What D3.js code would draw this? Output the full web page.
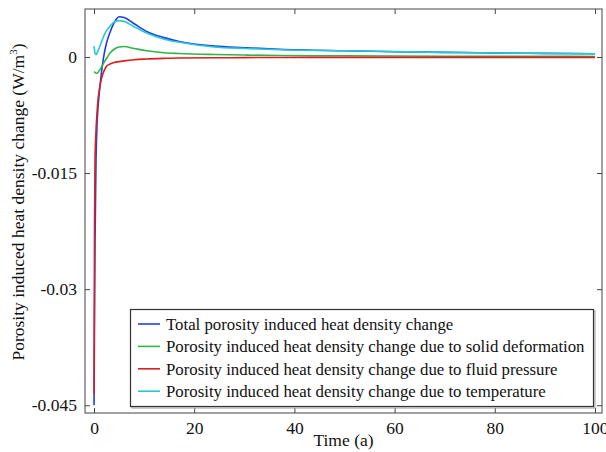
<!DOCTYPE html>
<html>
<head>
<meta charset="utf-8">
<script src="https://cdn.jsdelivr.net/npm/d3@7"></script>
<style>
  html, body { margin: 0; padding: 0; background: #fff; }
  svg { display: block; }
  text { font-family: "Liberation Serif", "Times New Roman", serif; fill: #111; }
</style>
</head>
<body>
<svg id="chart" width="606" height="452"></svg>
<script>
const times = [0, 0.1, 0.2, 0.4, 0.6, 0.8, 1, 1.4, 2, 2.5, 3.2, 4, 5, 6, 8, 10.5, 14, 17, 24, 30, 37, 50, 60, 70, 80, 90, 100];
const totalChange = [-0.045, -0.034, -0.024, -0.0133, -0.0088, -0.0065, -0.005, -0.0025, 0.0003, 0.0018, 0.0032, 0.0044, 0.0052, 0.0051, 0.0043, 0.0033, 0.0025, 0.002, 0.0014, 0.0012, 0.001, 0.0008, 0.00068, 0.0006, 0.00052, 0.00047, 0.00042];
const solidDeformation = [-0.0019, -0.00195, -0.002, -0.0021, -0.0021, -0.002, -0.0018, -0.0014, -0.0007, -0.0002, 0.0005, 0.001, 0.0013, 0.00135, 0.0011, 0.0008, 0.00055, 0.00045, 0.00032, 0.00025, 0.0002, 0.00015, 0.00012, 0.0001, 0.00009, 0.00008, 0.00007];
const fluidPressure = [-0.0435, -0.022, -0.0133, -0.0095, -0.0072, -0.0055, -0.0045, -0.003, -0.0018, -0.0012, -0.0009, -0.0007, -0.0006, -0.0005, -0.00035, -0.00026, -0.00018, -0.00013, -0.0001, -0.00008, -0.00006, -0.00005, -0.00005, -0.00005, -0.00005, -0.00005, -0.00005];
const temperature = [0.0014, 0.0009, 0.0005, 0.0003, 0.0005, 0.0008, 0.0011, 0.0018, 0.0028, 0.0034, 0.004, 0.0045, 0.0047, 0.0046, 0.0039, 0.0031, 0.0023, 0.0019, 0.0013, 0.0011, 0.00094, 0.0008, 0.0007, 0.0006, 0.00052, 0.00046, 0.0004];

const seriesNames = [
  "Total porosity induced heat density change",
  "Porosity induced heat density change due to solid deformation",
  "Porosity induced heat density change due to fluid pressure",
  "Porosity induced heat density change due to temperature"
];
const seriesValues = [totalChange, solidDeformation, fluidPressure, temperature];
const seriesColors = ["#1d3fe0", "#2fb54a", "#d91f1f", "#27c9d2"];

const xTicks = [0, 20, 40, 60, 80, 100];
const yTicks = [0, -0.015, -0.03, -0.045];
const yTickLabels = ["0", "-0.015", "-0.03", "-0.045"];
const xLabel = "Time (a)";

const svg = d3.select("#chart");
const L = 85, R = 602, T = 9, B = 413;
const x = d3.scaleLinear().domain([-1.8, 101.4]).range([L, R]);
const y = d3.scaleLinear().domain([-0.046, 0.0062]).range([B, T]);

svg.append("defs").append("clipPath").attr("id", "clip")
  .append("rect").attr("x", L).attr("y", T).attr("width", R - L).attr("height", B - T);

const frameColor = "#444";
const fontSize = 17.5;

// axes (ticks inward)
const xAxisB = d3.axisBottom(x).tickValues(xTicks).tickSizeInner(-5).tickSizeOuter(0).tickPadding(9).tickFormat(d3.format("d"));
const xAxisT = d3.axisTop(x).tickValues(xTicks).tickSizeInner(-5).tickSizeOuter(0).tickFormat("");
const yAxisL = d3.axisLeft(y).tickValues(yTicks).tickSizeInner(-5).tickSizeOuter(0).tickPadding(8).tickFormat((d, i) => yTickLabels[i]);
const yAxisR = d3.axisRight(y).tickValues(yTicks).tickSizeInner(-5).tickSizeOuter(0).tickFormat("");

function styleAxis(g) {
  g.select(".domain").remove();
  g.selectAll(".tick line").attr("stroke", frameColor).attr("stroke-width", 1);
  g.selectAll(".tick text").attr("font-family", "Liberation Serif, Times New Roman, serif").attr("font-size", fontSize).attr("fill", "#111");
}
svg.append("g").attr("transform", `translate(0,${B})`).call(xAxisB).call(styleAxis);
svg.append("g").attr("transform", `translate(0,${T})`).call(xAxisT).call(styleAxis);
svg.append("g").attr("transform", `translate(${L},0)`).call(yAxisL).call(styleAxis);
svg.append("g").attr("transform", `translate(${R},0)`).call(yAxisR).call(styleAxis);

// lines
const line = d3.line().x((d, i) => x(times[i])).y(d => y(d)).curve(d3.curveMonotoneX);
const lg = svg.append("g").attr("clip-path", "url(#clip)");
seriesValues.forEach((vals, k) => {
  lg.append("path").datum(vals).attr("d", line)
    .attr("fill", "none").attr("stroke", seriesColors[k]).attr("stroke-width", 1.6)
    .attr("stroke-linejoin", "round");
});

// frame
svg.append("rect").attr("x", L).attr("y", T).attr("width", R - L).attr("height", B - T)
  .attr("fill", "none").attr("stroke", frameColor).attr("stroke-width", 1);

// legend
const lgX = 130.5, lgY = 309.5, lgW = 463, lgH = 97;
svg.append("rect").attr("x", lgX + 1.5).attr("y", lgY + 1.5).attr("width", lgW).attr("height", lgH)
  .attr("fill", "none").attr("stroke", "#999").attr("stroke-width", 1);
svg.append("rect").attr("x", lgX).attr("y", lgY).attr("width", lgW).attr("height", lgH)
  .attr("fill", "#fff").attr("stroke", "#333").attr("stroke-width", 1.2);
seriesNames.forEach((name, k) => {
  const cy = 324 + k * 22.4;
  svg.append("line").attr("x1", 138).attr("x2", 160).attr("y1", cy).attr("y2", cy)
    .attr("stroke", seriesColors[k]).attr("stroke-width", 1.6);
  svg.append("text").attr("x", 166).attr("y", cy).attr("dy", "0.35em")
    .attr("font-size", 16.8).text(name);
});

// axis labels
svg.append("text").attr("x", (L + R) / 2).attr("y", 446).attr("text-anchor", "middle")
  .attr("font-size", fontSize).text(xLabel);

const yl = svg.append("text").attr("transform", `translate(24,${202}) rotate(-90)`)
  .attr("text-anchor", "middle").attr("font-size", fontSize);
yl.append("tspan").text("Porosity induced heat density change (W/m");
yl.append("tspan").attr("font-size", 11).attr("dy", -7).text("3");
yl.append("tspan").attr("dy", 7).text(")");
</script>
</body>
</html>
